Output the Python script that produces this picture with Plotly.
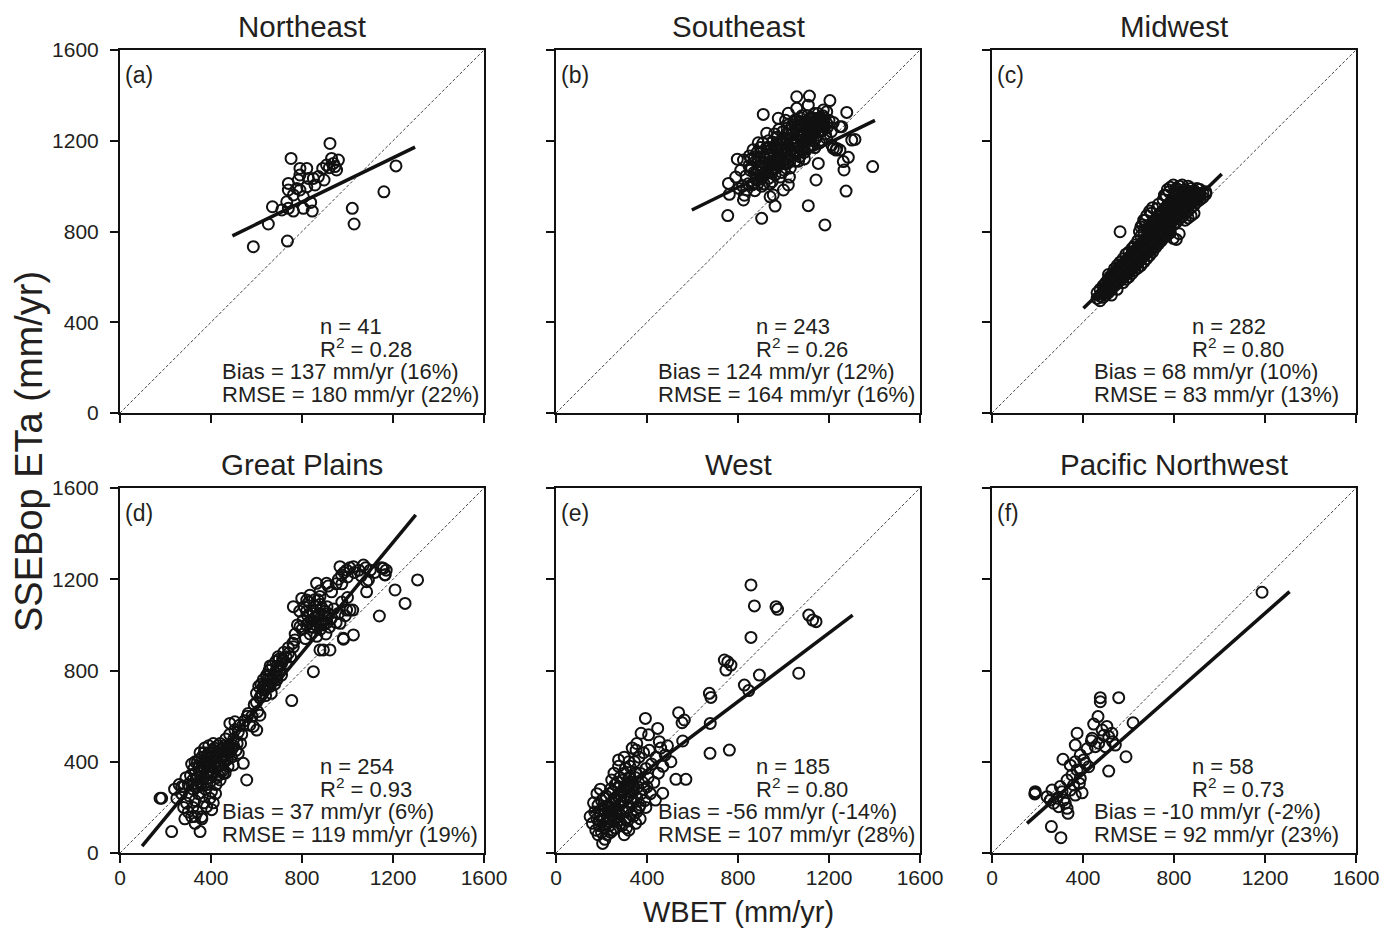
import plotly.graph_objects as go

# ---------------- data ----------------
titles = ["Northeast", "Southeast", "Midwest", "Great Plains", "West", "Pacific Northwest"]
panel_labels = ["(a)", "(b)", "(c)", "(d)", "(e)", "(f)"]
n_text = ["n = 41", "n = 243", "n = 282", "n = 254", "n = 185", "n = 58"]
r2_text = ["0.28", "0.26", "0.80", "0.93", "0.80", "0.73"]
bias_text = ["Bias = 137 mm/yr (16%)", "Bias = 124 mm/yr (12%)", "Bias = 68 mm/yr (10%)",
             "Bias = 37 mm/yr (6%)", "Bias = -56 mm/yr (-14%)", "Bias = -10 mm/yr (-2%)"]
rmse_text = ["RMSE = 180 mm/yr (22%)", "RMSE = 164 mm/yr (16%)", "RMSE = 83 mm/yr (13%)",
             "RMSE = 119 mm/yr (19%)", "RMSE = 107 mm/yr (28%)", "RMSE = 92 mm/yr (23%)"]
tick_vals = [0, 400, 800, 1200, 1600]
one_to_one = [0, 1600]

# regression lines (end points)
fit_x = [[494, 1297], [597, 1402], [402, 1010], [97, 1300], [150, 1304], [154, 1308]]
fit_y = [[781, 1172], [895, 1290], [462, 1053], [30, 1482], [175, 1043], [130, 1146]]

ne_pts = [(586,733),(736,758),(652,833),(670,909),(711,895),(740,902),(762,890),(733,931),(806,902),
          (845,890),(838,928),(740,983),(740,1012),(762,961),(784,1027),(791,983),(821,997),(828,1034),
          (821,1078),(791,1078),(857,1005),(850,1034),(752,1122),(897,1027),(891,1078),(908,1093),
          (923,1188),(930,1122),(938,1100),(952,1071),(960,1115),(920,1081),(945,1086),(1021,902),
          (1029,833),(1160,975),(1213,1089),(806,953),(777,990),(791,1049),(872,1042)]

se_pts = [(911,1316),(758,1012),(762,964),(755,870),(824,939),(904,858),(963,912),(1109,914),(1182,829),
          (1143,1027),(1153,1100),(1275,978),(1392,1086),(1266,1071),(1285,1127),(1263,1108),(1314,1206),
          (1278,1325),(1219,1166),(1231,1159),(1204,1377),(1114,1397),(1058,1394),(1058,1343),(1109,1357),
          (797,1119),(824,1115),(850,1133),(889,1191),(926,1233),(977,1299),(955,961),(1000,983),(941,953),
          (1021,1005),(838,983),(868,1012),(1175,1335),(1190,1277),(1248,1262),(1021,1321),(1190,1328),
          (1219,1280),(1256,1262),(1300,1203),(1234,1166),(1212,1181),(1248,1159),
          (820,1000),(835,1045),(848,1090),(862,1005),(870,1060),(878,1110),(885,1150),(893,1030),(900,1085),
          (905,1000),(912,1125),(918,1060),(925,1170),(930,1100),(936,1035),(943,1140),(948,1075),(952,1195),
          (958,1110),(963,1050),(968,1160),(972,1215),(978,1090),(983,1130),(988,1185),(992,1060),(997,1240),
          (1002,1150),(1007,1100),(1012,1205),(1016,1255),(1020,1130),(1025,1175),(1030,1080),(1034,1230),
          (1038,1270),(1042,1150),(1047,1200),(1051,1110),(1055,1255),(1060,1290),(1064,1170),(1068,1220),
          (1072,1130),(1076,1270),(1081,1310),(1085,1190),(1090,1240),(1094,1150),(1098,1285),(1103,1210),
          (1108,1255),(1112,1175),(1117,1300),(1121,1230),(1126,1270),(1131,1200),(1136,1320),(1140,1250),
          (1146,1290),(1151,1225),(1157,1265),(1163,1300),(1170,1245),(1177,1280),(1185,1230),(1193,1260),
          (845,1010),(857,1120),(866,1160),(874,980),(883,1070),(890,1120),(898,1170),(907,1050),(915,1010),
          (922,1090),(928,1140),(934,1200),(940,1010),(946,1110),(955,1150),(961,1230),(966,1080),(974,1130),
          (980,1250),(985,1040),(991,1160),(995,1210),(1004,1070),(1010,1170),(1014,1230),(1022,1270),
          (1028,1110),(1032,1160),(1040,1210),(1045,1240),(1049,1290),(1057,1140),(1062,1200),(1070,1250),
          (1078,1160),(1083,1220),(1088,1280),(1096,1200),(1101,1250),(1106,1310),(1114,1230),(1119,1270),
          (1124,1180),(1129,1240),(1134,1285),(1142,1210),(1148,1260),(1155,1300),(1160,1240),(1166,1200),
          (1173,1310),(1180,1260),(790,1040),(805,990),(812,1070),(828,960),(853,1070),(880,1030),(895,1130),
          (910,1190),(932,1060),(950,1020),(970,1190),(993,1110),(1009,1290),(1026,1040),(1036,1190),
          (1053,1180),(1066,1110),(1074,1300),(1092,1120),(1111,1280),(1138,1170),(1158,1190),(1190,1210),
          (1200,1290),(1210,1240),(860,1080),(873,1130),(887,1010),(902,1150),(917,1100),(938,1170),
          (957,1080),(976,1160),(999,1190),(1018,1100),(1044,1180),(1067,1260),(1086,1240),(1105,1170),
          (1132,1260),(1152,1320),
          (900,1040),(920,1120),(940,1100),(960,1170),(980,1120),(1000,1200),(1020,1160),(1040,1190),
          (1060,1230),(1080,1200),(1100,1260),(1120,1290),(1140,1270),(1060,1150),(1010,1140),(950,1060),
          (930,1080),(890,1060),(1030,1200),(1090,1180),(1070,1280),(1110,1220),(1000,1100),(980,1180),
          (960,1130),(1050,1270),(1130,1300),(1150,1280),(1170,1270),(1180,1300)]

mw_cols = {462: [505, 530], 475: [515, 545, 495], 488: [530, 560, 510], 500: [540, 575, 520, 555],
           512: [550, 590, 530, 570, 610], 525: [565, 600, 545, 585, 520], 538: [580, 615, 560, 600, 635],
           550: [590, 630, 570, 610, 650, 545], 563: [605, 645, 585, 625, 665, 799],
           576: [615, 655, 595, 640, 680, 575], 589: [630, 670, 610, 650, 700, 590],
           602: [645, 685, 620, 665, 710, 600], 615: [660, 700, 635, 680, 725, 615],
           628: [670, 715, 650, 690, 740, 630], 641: [685, 730, 660, 705, 760, 640],
           654: [700, 745, 675, 720, 780, 820, 650], 667: [715, 760, 690, 735, 800, 850, 665],
           680: [730, 775, 705, 750, 810, 870, 680], 693: [740, 790, 715, 765, 830, 890, 695],
           706: [755, 805, 730, 780, 840, 905, 710], 719: [770, 820, 745, 795, 855, 730],
           732: [785, 835, 760, 810, 870, 920, 745], 745: [800, 850, 775, 825, 885, 760],
           758: [815, 865, 790, 840, 900, 960, 775], 771: [830, 880, 800, 855, 915, 985, 785],
           784: [845, 895, 815, 870, 930, 995, 795], 797: [860, 910, 830, 885, 945, 1005, 770],
           810: [870, 920, 840, 895, 955, 990, 765], 823: [885, 935, 855, 910, 965, 1000, 790],
           836: [900, 945, 865, 925, 975, 1005], 849: [910, 955, 880, 935, 985, 850],
           862: [925, 965, 890, 945, 1000, 860], 875: [935, 975, 905, 955, 990, 870],
           888: [945, 980, 915, 965, 880], 901: [955, 990, 930, 970], 914: [960, 985, 940],
           927: [970, 950], 940: [965, 975]}
mw_cols2 = {481: [525], 494: [545, 565], 506: [560, 535], 518: [575, 545, 600], 531: [590, 560, 615],
            544: [600, 570, 625], 557: [615, 585, 640], 570: [625, 600, 650], 583: [640, 615, 665],
            596: [655, 625, 680], 609: [665, 640, 690], 622: [680, 655, 705, 730], 635: [695, 670, 720],
            648: [710, 685, 735, 800], 661: [725, 700, 750, 830], 674: [740, 715, 765, 850],
            687: [755, 730, 780, 810], 700: [765, 790, 820, 880], 713: [780, 755, 805, 835],
            726: [795, 770, 820, 850, 900], 739: [810, 785, 835, 865], 752: [825, 800, 850, 880, 940],
            765: [840, 815, 865, 895, 960], 778: [855, 830, 880, 910, 975], 791: [870, 845, 895, 925],
            804: [880, 855, 905, 935, 975], 817: [895, 870, 920, 945, 985], 830: [905, 880, 930, 955],
            843: [920, 895, 945, 965], 856: [930, 905, 955, 975], 869: [945, 920, 965],
            882: [955, 930, 975], 895: [960, 940], 908: [965, 950]}
mw_pts = [(x, y) for x, ys in mw_cols.items() for y in ys] + \
         [(x, y) for x, ys in mw_cols2.items() for y in ys]

gp_pts = [(183,240),(227,94),(352,94),(557,320),(755,668),(850,795),(894,890),(982,937),(1026,956),
          (1140,1039),(1253,1094),(1209,1153),(1308,1197),(1084,1189),(1023,1065),
          (176,240),(271,291),(293,218),(315,159),(330,130),(359,159),(381,203),(403,190),(440,320),
          (454,349),(498,386),(520,437),(542,393),(483,568),(505,575),(564,612),(586,555),(601,539),
          (615,604),(630,714),(645,773),(659,802),(689,817),(718,846),(740,875),(762,904),(769,934),
          (791,992),(762,1080),(799,1116),(821,1109),(864,1182),(908,1182),(930,1145),(879,1124),
          (879,890),(923,890),(982,941),(967,1007),(996,1065),(1011,1065),(967,1255),(996,1240),
          (1026,1255),(1070,1262),(1158,1248),(1165,1219),(974,1219),(1084,1145),(1092,1197),
          (300,300),(310,340),(320,280),(325,370),(335,320),(340,400),(345,260),(350,350),(355,300),
          (360,420),(365,380),(370,330),(375,280),(380,400),(385,360),(390,440),(395,310),(400,380),
          (405,420),(410,350),(415,460),(420,400),(425,330),(430,440),(435,380),(440,480),(445,420),
          (450,360),(455,460),(460,400),(465,500),(470,440),(475,380),(480,470),(490,420),(500,500),
          (510,450),(520,530),(530,480),(540,560),(305,250),(315,390),(330,230),(342,300),(352,440),
          (362,250),(372,460),(382,300),(392,380),(402,270),(412,450),(422,300),(432,340),(442,390),
          (452,420),(462,350),(472,410),(482,520),(495,460),(505,540),(515,480),(525,560),(535,520),
          (548,580),(560,600),(570,560),(270,260),(280,200),(290,330),(260,300),(285,150),(300,180),
          (320,200),(340,180),(330,160),(360,150),(370,220),(395,240),(410,220),(420,260),(280,290),
          (250,240),(240,280),
          (320,320),(330,350),(340,330),(350,380),(360,360),(370,400),(380,420),(390,400),(400,440),
          (410,410),(420,430),(430,400),(440,450),(450,430),(460,470),(470,460),(380,350),(400,350),
          (420,370),(360,310),(340,290),(390,330),(440,360),(460,430),(480,440),(500,470),(330,400),
          (350,410),(370,440),(390,470),(410,480),(430,470),
          (580,600),(590,650),(600,700),(605,620),(615,680),(620,740),(625,700),(630,760),(640,720),
          (645,780),(650,740),(655,800),(660,760),(665,700),(670,820),(675,780),(680,740),(685,840),
          (690,800),(695,860),(700,820),(710,780),(715,850),(720,880),(730,830),(740,900),(750,860),
          (760,920),(640,690),(660,820),(610,730),(690,760),
          (600,660),(620,690),(630,730),(650,760),(670,760),(680,790),(700,800),(710,830),(730,860),
          (700,850),(660,730),(640,740),
          (770,960),(780,1000),(790,1060),(800,980),(805,1020),(810,1080),(815,940),(820,1000),
          (825,1040),(830,1100),(835,960),(840,1020),(845,1060),(850,990),(855,1030),(860,1080),
          (865,950),(870,1010),(875,1050),(880,980),(885,1020),(890,1070),(895,1000),(900,1040),
          (905,960),(910,1010),(915,1050),(920,990),(930,1030),(940,1070),(950,1010),(960,1050),
          (975,1100),(990,1040),(835,1130),(855,1110),(880,1150),(915,1170),(950,1180),(975,1180),
          (1000,1120),(870,1110),
          (830,1010),(850,1050),(870,1040),(890,1010),(900,1060),(860,1000),(840,990),(880,1090),
          (820,1060),(910,1080),
          (960,1200),(985,1230),(1000,1210),(1010,1250),(1030,1230),(1050,1240),(1060,1215),
          (1080,1250),(1100,1240),(1120,1230),(1150,1250),(1165,1220),(1170,1240)]

we_pts = [(857,1175),(872,1083),(967,1080),(974,1068),(1111,1043),(1128,1021),(1143,1014),(857,945),
          (740,846),(755,838),(769,824),(747,802),(894,780),(1067,788),(828,736),(847,712),(674,700),
          (681,682),(539,615),(564,583),(554,571),(678,568),(393,590),(447,546),(374,525),(407,518),
          (454,488),(557,491),(677,437),(762,451),(275,408),(352,451),(505,400),(527,323),(571,323),
          (469,262),(437,232),(205,42),
          (150,160),(160,130),(170,180),(175,100),(180,150),(185,210),(190,120),(195,170),(200,90),
          (200,230),(205,140),(210,190),(215,60),(215,110),(220,250),(225,160),(230,200),(235,120),
          (240,280),(240,90),(245,170),(250,220),(255,140),(260,300),(260,110),(265,190),(270,250),
          (275,160),(280,330),(280,210),(285,130),(290,270),(295,180),(300,230),(300,350),(305,150),
          (310,290),(315,200),(320,250),(325,380),(330,170),(330,310),(335,220),(340,270),(345,400),
          (350,190),(350,330),(355,240),(360,290),(365,420),(370,210),(370,350),(375,260),(380,310),
          (385,440),(390,230),(395,370),(400,290),(405,330),(410,450),(415,260),(420,390),(430,310),
          (440,420),(450,350),(460,460),(470,380),(480,430),(490,470),
          (210,240),(225,80),(235,260),(250,100),(265,240),(275,290),(285,250),(295,320),(305,370),
          (315,140),(325,300),(340,160),(355,180),(365,200),(385,280),(395,200),(245,320),(255,350),
          (230,140),(250,270),(270,310),(290,120),(310,110),(320,400),(200,190),(185,80),(165,220),
          (180,260),(195,280),(275,380),(300,420),(335,460),(355,480),(260,150),(280,170),(310,180),
          (330,240),(350,130),(370,150),(300,80),(320,100),
          (220,130),(240,150),(260,180),(280,230),(300,250),(320,270),(340,300),(250,190),(270,140),
          (290,220),(310,240),(330,280),(230,180),(210,150),(190,140),(260,230),(280,260),(300,290),
          (320,330),(350,350),(240,200),(220,200)]

pn_pts = [(1187,1143),(476,681),(476,663),(557,681),(466,598),(620,571),(447,565),(505,555),(484,539),
          (374,525),(513,510),(437,492),(530,488),(542,473),(366,473),(454,466),(589,422),(388,430),
          (312,411),(366,400),(403,408),(425,378),(374,364),(513,359),(352,342),(330,320),(388,327),
          (190,269),(188,259),(264,276),(300,291),(344,276),(366,254),(396,264),(256,232),(286,240),
          (315,232),(330,196),(271,218),(334,174),(261,116),(303,67),(440,503),(491,516),(410,393),
          (384,305),(359,298),(308,269),(242,247),(293,203),(322,218),(344,385),(418,457),(469,481),
          (498,466),(527,525),(388,364),(190,264)]

all_pts = [ne_pts, se_pts, mw_pts, gp_pts, we_pts, pn_pts]

# ---------------- layout geometry ----------------
OFF = 8                      # page offset of the plot div (body margin)
W, H = 1395 - 2 * OFF, 938 - 2 * OFF
col_px = [(120, 484), (556, 920), (992, 1356)]   # page pixels
row_px = [(50, 413), (488, 853)]
FONT = "Liberation Sans, Arial, sans-serif"
TXT = "#231f20"


def fx(p):
    return (p - OFF) / W


def fy(p):
    return 1 - (p - OFF) / H


fig = go.Figure()
annotations = []
layout_axes = {}

for i in range(6):
    r, c = divmod(i, 3)
    sfx = "" if i == 0 else str(i + 1)
    xa, ya = "x" + sfx, "y" + sfx
    pts = all_pts[i]
    px = [p[0] for p in pts]
    py = [p[1] for p in pts]

    fig.add_trace(go.Scatter(x=one_to_one, y=one_to_one, mode="lines", xaxis=xa, yaxis=ya,
                             line=dict(color="#444", width=1, dash="3px,2px"),
                             showlegend=False, hoverinfo="skip"))
    fig.add_trace(go.Scatter(x=px, y=py, mode="markers", xaxis=xa, yaxis=ya,
                             marker=dict(symbol="circle-open", size=11, color="#111",
                                         line=dict(width=2, color="#111")),
                             showlegend=False))
    fig.add_trace(go.Scatter(x=fit_x[i], y=fit_y[i], mode="lines", xaxis=xa, yaxis=ya,
                             line=dict(color="#111", width=3.5), showlegend=False))

    x0, x1 = col_px[c]
    y0, y1 = row_px[r]
    common = dict(range=[0, 1600], tickvals=tick_vals, ticks="outside", ticklen=8, tickwidth=2,
                  tickcolor="#111", showline=True, linewidth=2, linecolor="#111", mirror=True,
                  showgrid=False, zeroline=False, automargin=False,
                  tickfont=dict(size=21, color=TXT, family=FONT))
    layout_axes["xaxis" + sfx] = dict(common, domain=[fx(x0), fx(x1)], anchor=ya,
                                      showticklabels=(r == 1), ticklabelstandoff=-3)
    layout_axes["yaxis" + sfx] = dict(common, domain=[fy(y1), fy(y0)], anchor=xa,
                                      showticklabels=(c == 0), ticklabelstandoff=7)

    xd, yd = xa + " domain", ya + " domain"
    annotations.append(dict(text=titles[i], xref=xd, yref=yd, x=0.5, y=1, yshift=23,
                            xanchor="center", yanchor="middle", showarrow=False,
                            font=dict(size=29.5, color=TXT, family=FONT)))
    annotations.append(dict(text=panel_labels[i], xref=xd, yref=yd, x=3 / 364, y=1, yshift=-25,
                            xanchor="left", yanchor="middle", showarrow=False,
                            font=dict(size=23, color=TXT, family=FONT)))
    stats = [(n_text[i], 198 / 364, 87), ("R<sup>2</sup> = " + r2_text[i], 198 / 364, 65),
             (bias_text[i], 100 / 364, 42), (rmse_text[i], 100 / 364, 19)]
    for txt, xx, ys in stats:
        annotations.append(dict(text=txt, xref=xd, yref=yd, x=xx, y=0, yshift=ys,
                                xanchor="left", yanchor="middle", showarrow=False,
                                font=dict(size=22, color=TXT, family=FONT)))

annotations.append(dict(text="SSEBop ETa (mm/yr)", xref="paper", yref="paper", x=fx(29),
                        y=fy(452), textangle=-90, xanchor="center", yanchor="middle",
                        showarrow=False, font=dict(size=38, color=TXT, family=FONT)))
annotations.append(dict(text="WBET (mm/yr)", xref="paper", yref="paper", x=fx(738),
                        y=fy(912), xanchor="center", yanchor="middle",
                        showarrow=False, font=dict(size=29, color=TXT, family=FONT)))

fig.update_layout(width=W, height=H, margin=dict(l=0, r=0, t=0, b=0),
                  paper_bgcolor="white", plot_bgcolor="white",
                  annotations=annotations, **layout_axes)
fig.write_html("out.html")
